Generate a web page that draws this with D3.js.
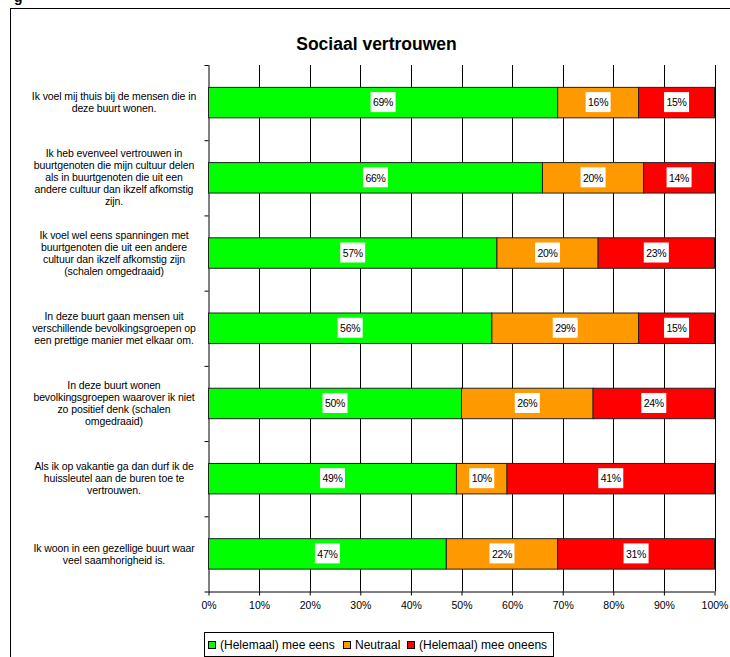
<!DOCTYPE html>
<html><head><meta charset="utf-8">
<script src="https://cdn.jsdelivr.net/npm/d3@7"></script>
<style>
html,body{margin:0;padding:0;background:#fff;}
svg{display:block;font-family:"Liberation Sans",Arial,sans-serif;}
</style></head>
<body>
<svg id="c" width="730" height="657"></svg>
<script>
const categories = [
  ["Ik voel mij thuis bij de mensen die in","deze buurt wonen."],
  ["Ik heb evenveel vertrouwen in","buurtgenoten die mijn cultuur delen","als in buurtgenoten die uit een","andere cultuur dan ikzelf afkomstig","zijn."],
  ["Ik voel wel eens spanningen met","buurtgenoten die uit een andere","cultuur dan ikzelf afkomstig zijn","(schalen omgedraaid)"],
  ["In deze buurt gaan mensen uit","verschillende bevolkingsgroepen op","een prettige manier met elkaar om."],
  ["In deze buurt wonen","bevolkingsgroepen waarover ik niet","zo positief denk (schalen","omgedraaid)"],
  ["Als ik op vakantie ga dan durf ik de","huissleutel aan de buren toe te","vertrouwen."],
  ["Ik woon in een gezellige buurt waar","veel saamhorigheid is."]
];
const seriesNames = ["(Helemaal) mee eens","Neutraal","(Helemaal) mee oneens"];
const eens    = [69,66,57,56,50,49,47];
const neutraal= [16,20,20,29,26,10,22];
const oneens  = [15,14,23,15,24,41,31];
const xTicks = [0,10,20,30,40,50,60,70,80,90,100];
const colors = ["#00FF00","#FF9900","#FF0000"];
const title = "Sociaal vertrouwen";

const svg = d3.select("#c");
// outer frame (partially off-canvas)
svg.append("rect").attr("x",10.5).attr("y",8.5).attr("width",740).attr("height",700)
  .attr("fill","none").attr("stroke","#000").attr("stroke-width",1);
svg.append("text").attr("x",14).attr("y",2).attr("font-size",14).attr("font-weight","bold").text("g");

const x = d3.scaleLinear().domain([0,100]).range([208.5,714.5]);
const ids = categories.map((d,i)=>i);
const y = d3.scaleBand().domain(ids).range([65,591.5]).padding(0);
const bh = y.bandwidth()*0.405;

svg.append("text").attr("x",376.5).attr("y",49.5).attr("text-anchor","middle")
  .attr("font-size",17.5).attr("font-weight","bold").text(title);

// gridlines
const g = svg.append("g");
g.selectAll("line.grid").data(xTicks.slice(1)).join("line")
  .attr("x1",d=>Math.round(x(d))+0.5).attr("x2",d=>Math.round(x(d))+0.5)
  .attr("y1",65).attr("y2",591.5).attr("stroke","#000").attr("stroke-width",1);

// bottom axis
const xAxis = d3.axisBottom(x).tickValues(xTicks).tickFormat(d=>d+"%").tickSize(4).tickPadding(6);
const ax = svg.append("g").attr("transform","translate(0,591.5)").call(xAxis);
ax.select(".domain").attr("stroke","#000").attr("d","M208.5,0.5H714.5");
ax.selectAll(".tick line").attr("stroke","#000");
ax.selectAll(".tick text").attr("font-size",10.5).attr("fill","#000").attr("font-family","Liberation Sans, Arial, sans-serif");

// left axis with ticks at band boundaries
const yb = d3.scaleLinear().domain([0,7]).range([65,591.5]);
const ay = svg.append("g").attr("transform","translate(208.5,0)")
  .call(d3.axisLeft(yb).tickValues(d3.range(0,8)).tickSize(4).tickFormat(""));
ay.select(".domain").attr("stroke","#000").attr("d","M0.5,65V591.5");
ay.selectAll(".tick line").attr("stroke","#000");

// stacked bars
const stackData = ids.map(i=>({i, eens:eens[i], neutraal:neutraal[i], oneens:oneens[i]}));
const stack = d3.stack().keys(["eens","neutraal","oneens"])(stackData);
stack.forEach((layer,k)=>{
  const gl = svg.append("g");
  gl.selectAll("rect").data(layer).join("rect")
    .attr("x",d=>x(d[0])).attr("width",d=>x(d[1])-x(d[0]))
    .attr("y",d=>y(d.data.i)+y.bandwidth()/2-bh/2).attr("height",bh)
    .attr("fill",colors[k]).attr("stroke","#222").attr("stroke-width",1);
  const lg = gl.selectAll("g.lab").data(layer).join("g")
    .attr("transform",d=>`translate(${(x(d[0])+x(d[1]))/2},${y(d.data.i)+y.bandwidth()/2})`);
  lg.append("rect").attr("x",-12.5).attr("y",-10.5).attr("width",25).attr("height",20).attr("fill","#fff");
  lg.append("text").attr("text-anchor","middle").attr("dy","0.35em").attr("font-size",10.5)
    .attr("letter-spacing",-0.3).text(d=>(d[1]-d[0])+"%");
});

// category labels
const cl = svg.append("g");
categories.forEach((lines,i)=>{
  const cy = y(i)+y.bandwidth()/2;
  const lh = 12;
  const t = cl.append("text").attr("text-anchor","middle").attr("font-size",10.5).attr("letter-spacing",-0.1);
  lines.forEach((ln,j)=>{
    t.append("tspan").attr("x",114).attr("y",cy+(j-(lines.length-1)/2)*lh).attr("dy","0.35em").text(ln);
  });
});

// legend
const leg = svg.append("g");
leg.append("rect").attr("x",204.5).attr("y",632.5).attr("width",349).attr("height",24).attr("fill","#fff").attr("stroke","#000");
const legX = [208,343,407];
seriesNames.forEach((n,k)=>{
  leg.append("rect").attr("x",legX[k]+0.5).attr("y",641.5).attr("width",7).attr("height",7)
    .attr("fill",colors[k]).attr("stroke","#000");
  leg.append("text").attr("x",legX[k]+12).attr("y",649).attr("font-size",12).text(n);
});
</script>
</body></html>
